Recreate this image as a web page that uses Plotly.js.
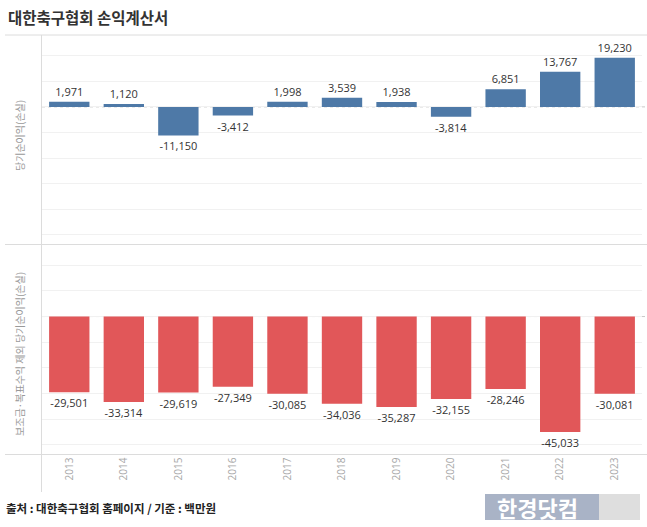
<!DOCTYPE html>
<html>
<head>
<meta charset="utf-8">
<script src="https://cdn.plot.ly/plotly-3.0.1.min.js"></script>
<style>
html,body{margin:0;padding:0;background:#fff;}
#chart{width:647px;height:527px;}
</style>
</head>
<body>
<div id="chart"></div>
<script>
// ---- data ----
const years = ['2013','2014','2015','2016','2017','2018','2019','2020','2021','2022','2023'];
const netIncome = [1971, 1120, -11150, -3412, 1998, 3539, 1938, -3814, 6851, 13767, 19230];
const netIncomeExSubsidy = [-29501, -33314, -29619, -27349, -30085, -34036, -35287, -32155, -28246, -45033, -30081];
const titleText = '대한축구협회 손익계산서';
const topAxisTitle = '당기순이익(손실)';
const bottomAxisTitle = '보조금·복표수익 제외 당기순이익(손실)';
const sourceText = '출처 : 대한축구협회 홈페이지 / 기준 : 백만원';
const watermarkText = '한경닷컴';

// ---- layout helpers ----
const W = 647, H = 527;
const px = x => x / W;
const py = y => 1 - y / H;
const FONT = '"Noto Sans CJK KR", "Noto Sans", sans-serif';
const NUMFONT = '"Open Sans", "Noto Sans", sans-serif';
const fmt = v => v.toLocaleString('en-US');
const yRange = [-53800, 28100];

const traces = [
  {
    type: 'bar', x: years, y: netIncome, xaxis: 'x', yaxis: 'y',
    marker: {color: '#4e79a7'},
    text: netIncome.map(fmt), textposition: 'outside', cliponaxis: false,
    textfont: {family: NUMFONT, size: 11, color: '#333'},
    hoverinfo: 'skip'
  },
  {
    type: 'bar', x: years, y: netIncomeExSubsidy, xaxis: 'x', yaxis: 'y2',
    marker: {color: '#e15759'},
    text: netIncomeExSubsidy.map(fmt), textposition: 'outside', cliponaxis: false,
    textfont: {family: NUMFONT, size: 11, color: '#333'},
    hoverinfo: 'skip'
  }
];

const lineStyle = {color: '#dcdcdc', width: 1};
const shapes = [
  {type: 'line', xref: 'paper', yref: 'paper', x0: px(5), x1: 1, y0: py(35), y1: py(35), line: lineStyle},
  {type: 'line', xref: 'paper', yref: 'paper', x0: px(5), x1: 1, y0: py(244.5), y1: py(244.5), line: lineStyle},
  {type: 'line', xref: 'paper', yref: 'paper', x0: px(5), x1: 1, y0: py(454.5), y1: py(454.5), line: lineStyle},
  {type: 'line', xref: 'paper', yref: 'paper', x0: px(41.5), x1: px(41.5), y0: py(35), y1: py(492), line: lineStyle},
  {type: 'line', xref: 'paper', yref: 'y', x0: px(42), x1: 1, y0: 0, y1: 0, line: {color: '#c8c8c8', width: 1, dash: 'dot'}, layer: 'below'},
  {type: 'line', xref: 'paper', yref: 'y2', x0: px(42), x1: 1, y0: 0, y1: 0, line: {color: '#c8c8c8', width: 1, dash: 'dot'}, layer: 'below'},
  {type: 'rect', xref: 'paper', yref: 'paper', x0: px(485), x1: px(599), y0: py(520), y1: py(494), fillcolor: '#a9b3c6', line: {width: 0}},
  {type: 'rect', xref: 'paper', yref: 'paper', x0: px(599), x1: px(640), y0: py(520), y1: py(494), fillcolor: '#dedede', line: {width: 0}}
];

const annotations = [
  {text: '<b>' + titleText + '</b>', xref: 'paper', yref: 'paper', x: px(6), y: py(17), xanchor: 'left', yanchor: 'middle', showarrow: false,
   font: {family: FONT, size: 15.5, color: '#333'}},
  {text: topAxisTitle, xref: 'paper', yref: 'paper', x: px(19), y: py(136), textangle: -90, xanchor: 'center', yanchor: 'middle', showarrow: false,
   font: {family: FONT, size: 10, color: '#999'}},
  {text: bottomAxisTitle, xref: 'paper', yref: 'paper', x: px(19), y: py(354), textangle: -90, xanchor: 'center', yanchor: 'middle', showarrow: false,
   font: {family: FONT, size: 10, color: '#999'}},
  {text: '<b>' + sourceText + '</b>', xref: 'paper', yref: 'paper', x: px(4), y: py(508), xanchor: 'left', yanchor: 'middle', showarrow: false,
   font: {family: FONT, size: 11.5, color: '#222'}},
  {text: '<b>' + watermarkText + '</b>', xref: 'paper', yref: 'paper', x: px(537), y: py(507), xanchor: 'center', yanchor: 'middle', showarrow: false,
   font: {family: FONT, size: 22, color: '#ffffff'}}
];

const yCommon = {
  range: yRange, showticklabels: false, ticks: '', zeroline: false, showline: false,
  showgrid: true, gridcolor: '#f1f1f1', gridwidth: 1, dtick: 10000, tick0: 0, fixedrange: true
};

const layout = {
  width: W, height: H,
  margin: {l: 0, r: 0, t: 0, b: 0},
  paper_bgcolor: '#fff', plot_bgcolor: 'rgba(0,0,0,0)',
  showlegend: false,
  bargap: 0.26,
  font: {family: FONT},
  xaxis: {
    domain: [px(42), px(642)], anchor: 'y2', type: 'category',
    tickangle: -90, tickfont: {family: NUMFONT, size: 10, color: '#a8a8a8'},
    showgrid: false, zeroline: false, showline: false, ticks: '', ticklen: 0, fixedrange: true
  },
  yaxis: Object.assign({domain: [py(244.5), py(35)], anchor: 'x'}, yCommon),
  yaxis2: Object.assign({domain: [py(454.5), py(244.5)], anchor: 'x'}, yCommon),
  shapes: shapes,
  annotations: annotations
};

Plotly.newPlot('chart', traces, layout, {displayModeBar: false, staticPlot: true});
</script>
</body>
</html>
